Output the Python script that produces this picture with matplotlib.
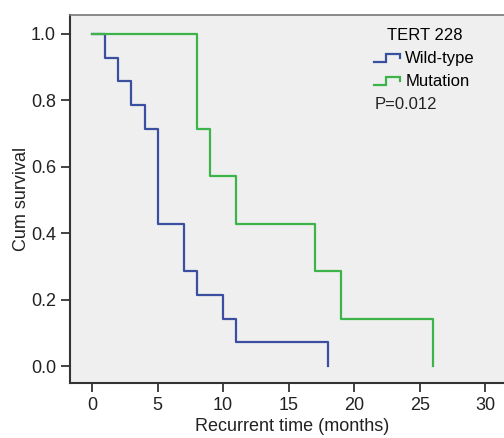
import matplotlib
matplotlib.use("Agg")
import matplotlib.pyplot as plt
from matplotlib.legend_handler import HandlerBase
from matplotlib.lines import Line2D

plt.rcParams['font.family'] = ['Liberation Sans', 'DejaVu Sans']

wild_time = [0, 1, 2, 3, 4, 5, 7, 8, 10, 11, 18]
wild_surv = [1.0, 0.929, 0.857, 0.786, 0.714, 0.429, 0.286, 0.214, 0.143, 0.071, 0.0]
mut_time = [0, 8, 9, 11, 17, 19, 26]
mut_surv = [1.0, 0.714, 0.571, 0.429, 0.286, 0.143, 0.0]
labels = ["Wild-type", "Mutation"]
colors = ["#3a4fa0", "#3cb44a"]
x_ticks = [0, 5, 10, 15, 20, 25, 30]
y_ticks = [0.0, 0.2, 0.4, 0.6, 0.8, 1.0]


class HandlerStep(HandlerBase):
    def create_artists(self, legend, orig_handle, xdescent, ydescent,
                       width, height, fontsize, trans):
        x0 = -xdescent
        xm = x0 + width * 0.45
        y_lo = -ydescent + height * 0.05
        y_hi = -ydescent + height * 0.75
        xs = [x0, xm, xm, x0 + width, x0 + width]
        ys = [y_lo, y_lo, y_hi, y_hi, y_hi - height * 0.35]
        ln = Line2D(xs, ys, color=orig_handle.get_color(),
                    lw=orig_handle.get_linewidth(), transform=trans,
                    solid_joinstyle='miter')
        return [ln]


fig = plt.figure(figsize=(5.04, 4.38), dpi=100)
ax = fig.add_axes([70 / 504, 55 / 438, 1 - 70 / 504 + 0.02, 368 / 438])
ax.set_facecolor("#efefef")

h1, = ax.step(wild_time, wild_surv, where='post', color=colors[0], lw=1.6, label=labels[0])
h2, = ax.step(mut_time, mut_surv, where='post', color=colors[1], lw=1.6, label=labels[1])

ax.set_xlim(-1.69, 32.2)
ax.set_ylim(-0.051, 1.057)
ax.set_xticks(x_ticks)
ax.set_yticks(y_ticks)
ax.set_yticklabels([f"{v:.1f}" for v in y_ticks])
ax.tick_params(axis='both', direction='out', length=6.5, width=1.2,
               labelsize=13, colors="#222222", pad=3.5)

for s in ['left', 'bottom']:
    ax.spines[s].set_color("#333333")
    ax.spines[s].set_linewidth(1.5)
ax.spines['top'].set_color("#777777")
ax.spines['top'].set_linewidth(1.2)
ax.spines['right'].set_visible(False)

ax.set_xlabel("Recurrent time (months)", fontsize=13, color="#222222", labelpad=3)
ax.set_ylabel("Cum survival", fontsize=13, color="#222222", labelpad=1)

leg = ax.legend(handles=[h1, h2], labels=labels, title="TERT 228",
                handler_map={Line2D: HandlerStep()},
                loc='upper left', bbox_to_anchor=(0.684, 0.965),
                frameon=False, fontsize=12, title_fontsize=12,
                handlelength=1.6, handletextpad=0.3, labelspacing=0.48,
                borderaxespad=0, borderpad=0)
leg._legend_box.align = "center"
ax.text(0.6855, 0.776, "P=0.012", transform=ax.transAxes, fontsize=12,
        color="#222222", va='top', ha='left')

fig.savefig("out.png", dpi=100)
